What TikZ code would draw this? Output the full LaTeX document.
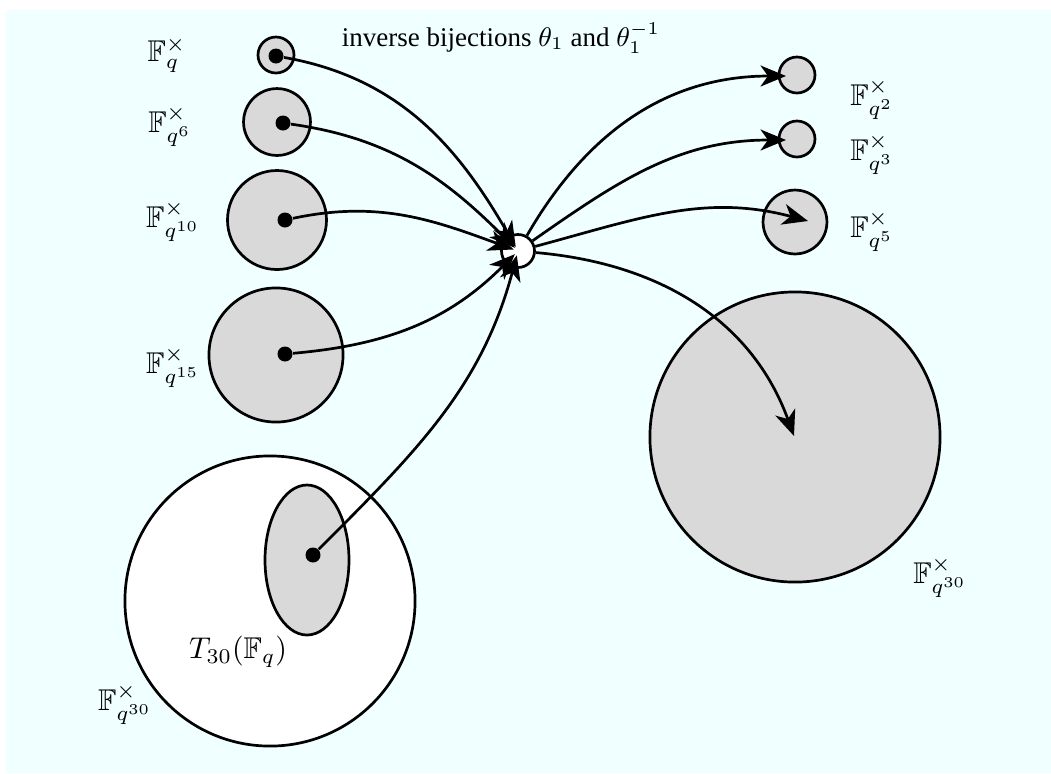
\documentclass[tikz,border=0pt]{standalone}
\usepackage{amsmath,amssymb}
\usepackage{fontspec}
\setmainfont{Liberation Serif}
\usetikzlibrary{arrows.meta,positioning,shapes.geometric}
\definecolor{paleback}{RGB}{240,255,255}

\begin{document}
\begin{tikzpicture}[x=0.3333pt, y=-0.3333pt,
    disk/.style={circle, draw, line width=0.9pt, fill=gray!30, inner sep=0pt},
    hole/.style={circle, draw, line width=0.9pt, fill=white, inner sep=0pt},
    dot/.style={circle, fill=black, inner sep=0pt, minimum size=5pt},
    arrow/.style={-{Stealth[length=8.5pt, width=7pt, inset=2.5pt]}, line width=0.9pt}
  ]
    \fill[paleback] (6,10) rectangle (1051,773);
    \useasboundingbox (0,0) rectangle (1051,773);
    % left side
    \node[disk, minimum size=12pt] (q1) at (276,55) {};
    \node[disk, minimum size=22.3pt] (q6) at (277,122) {};
    \node[disk, minimum size=33pt] (q10) at (277,220) {};
    \node[disk, minimum size=44.7pt] (q15) at (276,355) {};
    \node[hole, minimum size=96.7pt] (big) at (270,601) {};
    \node[ellipse, draw, line width=0.9pt, fill=gray!30, inner sep=0pt,
      minimum width=28pt, minimum height=50pt] (torus) at (307,560) {};
    \node[dot] (d1) at (276,56) {};
    \node[dot] (d6) at (283,123) {};
    \node[dot] (d10) at (285,220) {};
    \node[dot] (d15) at (285,354) {};
    \node[dot] (dT) at (313,555) {};
    \node at (167,55) {$\mathbb{F}_{q}^{\times}$};
    \node at (170,127) {$\mathbb{F}_{q^6}^{\times}$};
    \node at (173,222) {$\mathbb{F}_{q^{10}}^{\times}$};
    \node at (173,368) {$\mathbb{F}_{q^{15}}^{\times}$};
    \node at (125,705) {$\mathbb{F}_{q^{30}}^{\times}$};
    \node at (238,652) {$T_{30}(\mathbb{F}_q)$};
    % right side
    \node[disk, minimum size=12pt] (q2) at (797,75) {};
    \node[disk, minimum size=12pt] (q3) at (797,139) {};
    \node[disk, minimum size=21.3pt] (q5) at (795,222) {};
    \node[disk, minimum size=96.7pt] (bigr) at (795,437) {};
    \node at (872,100) {$\mathbb{F}_{q^2}^{\times}$};
    \node at (872,155) {$\mathbb{F}_{q^3}^{\times}$};
    \node at (872,232) {$\mathbb{F}_{q^5}^{\times}$};
    \node at (940,578) {$\mathbb{F}_{q^{30}}^{\times}$};
    \coordinate (t2) at (786,76);
    \coordinate (t3) at (786,140);
    \coordinate (t5) at (808,221);
    \coordinate (t30) at (794,436);
    % middle
    \node[hole, minimum size=11pt] (mid) at (518,251) {};
    \node[font=\fontsize{9}{11}\selectfont] at (501,38) {inverse bijections $\theta_1$ and $\theta_1^{-1}$};
    \draw[arrow, shorten >=1.5pt] (d1) to[out=-10, in=120] (mid.center);
    \draw[arrow, shorten >=1.5pt] (d6) to[out=-8, in=135] (mid.center);
    \draw[arrow, shorten >=1.5pt] (d10) to[out=12, in=160] (mid.center);
    \draw[arrow, shorten >=1.5pt] (d15) to[out=5, in=-135] (mid.center);
    \draw[arrow, shorten >=1.5pt] (dT) to[out=45, in=-105] (mid.center);
    \draw[arrow] (mid) to[out=60, in=180] (t2);
    \draw[arrow] (mid) to[out=35, in=180] (t3);
    \draw[arrow] (mid) to[out=15, in=165] (t5);
    \draw[arrow] (mid) to[out=-5, in=110] (t30);
  \end{tikzpicture}
\end{document}
